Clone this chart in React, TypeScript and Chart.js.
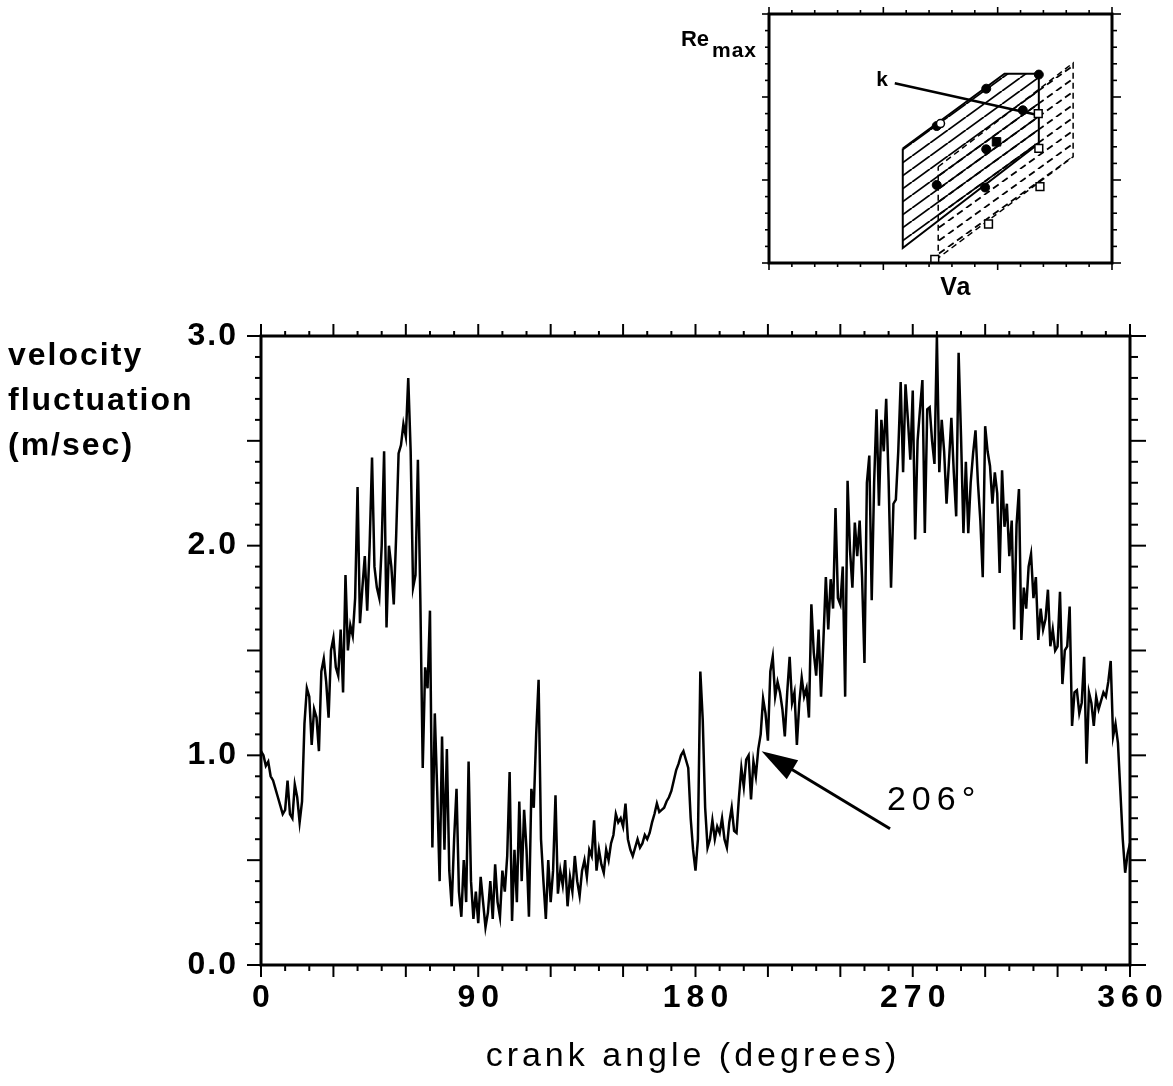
import React, { useEffect, useRef } from "react";
import { Chart, registerables } from "chart.js";

Chart.register(...registerables);

// ---------- main chart data ----------
const velocity: number[] = [
  1.02, 1.0, 0.95, 0.97, 0.9, 0.88, 0.84, 0.8, 0.76, 0.72,
  0.74, 0.88, 0.72, 0.7, 0.86, 0.8, 0.68, 0.78, 1.15, 1.32,
  1.28, 1.05, 1.22, 1.18, 1.02, 1.4, 1.46, 1.35, 1.18, 1.5,
  1.56, 1.42, 1.38, 1.6, 1.3, 1.86, 1.5, 1.62, 1.57, 1.75,
  2.28, 1.63, 1.8, 1.95, 1.69, 2.0, 2.42, 1.9, 1.8, 1.75,
  2.0, 2.45, 1.61, 2.0, 1.9, 1.72, 2.05, 2.44, 2.48, 2.58,
  2.52, 2.8, 2.45, 1.8, 1.86, 2.41, 1.75, 0.94, 1.42, 1.32,
  1.69, 0.56, 1.2, 0.83, 0.4, 1.09, 0.55, 1.03, 0.45, 0.28,
  0.6, 0.84, 0.35, 0.23, 0.5, 0.3, 0.97, 0.4, 0.22, 0.35,
  0.2, 0.42, 0.3, 0.18, 0.25, 0.4, 0.22, 0.48, 0.3, 0.23,
  0.45, 0.35, 0.52, 0.92, 0.21, 0.55, 0.3, 0.78, 0.4, 0.74,
  0.55, 0.23, 0.84, 0.75, 1.1, 1.36, 0.6, 0.4, 0.22, 0.5,
  0.3, 0.45, 0.81, 0.34, 0.45, 0.38, 0.5, 0.28, 0.42, 0.35,
  0.52, 0.4, 0.33, 0.45, 0.5, 0.42, 0.55, 0.52, 0.69, 0.45,
  0.55, 0.48, 0.44, 0.55, 0.5, 0.58, 0.62, 0.72, 0.68, 0.7,
  0.66, 0.77, 0.6, 0.55, 0.52, 0.56, 0.6, 0.56, 0.58, 0.62,
  0.6, 0.63, 0.68, 0.72, 0.77, 0.73, 0.74, 0.75, 0.78, 0.8,
  0.83, 0.88, 0.93, 0.96, 1.0, 1.02, 0.98, 0.94, 0.7, 0.55,
  0.45, 0.6, 1.4, 1.17, 0.75, 0.56, 0.6, 0.69, 0.6, 0.66,
  0.63, 0.7, 0.6, 0.56, 0.68, 0.75, 0.64, 0.63, 0.8, 0.94,
  0.85, 0.98, 1.0, 0.79, 0.97, 0.9, 1.03, 1.1, 1.27, 1.2,
  1.07, 1.4, 1.47, 1.28, 1.35, 1.3, 1.22, 1.09, 1.3, 1.47,
  1.25, 1.3, 1.05, 1.25, 1.37, 1.28, 1.32, 1.18, 1.72, 1.49,
  1.38, 1.6, 1.28, 1.55, 1.85, 1.6, 1.84, 1.7, 2.18, 1.75,
  1.72, 1.9, 1.28, 2.31, 1.98, 1.8, 2.11, 1.95, 2.12, 1.85,
  1.44, 2.3, 2.43, 1.74, 2.3, 2.65, 2.19, 2.6, 2.45, 2.7,
  2.31, 1.8, 2.2, 2.22, 2.45, 2.78, 2.35, 2.77, 2.6, 2.41,
  2.74, 2.03, 2.5, 2.65, 2.79, 2.06, 2.65, 2.66, 2.5, 2.39,
  3.0, 2.35, 2.6, 2.45, 2.2, 2.4, 2.61, 2.35, 2.14, 2.92,
  2.52, 2.06, 2.4, 2.06, 2.3, 2.44, 2.55, 2.3, 2.12, 1.85,
  2.57, 2.45, 2.38, 2.2, 2.35, 2.25, 1.87, 2.36, 2.09, 2.2,
  1.95, 2.12, 1.6, 2.1, 2.27, 1.55, 1.8, 1.7, 1.9, 1.96,
  1.75, 1.85, 1.55, 1.7, 1.6, 1.65, 1.79, 1.52, 1.6, 1.5,
  1.52, 1.78, 1.34, 1.5, 1.52, 1.71, 1.14, 1.3, 1.31, 1.2,
  1.25, 1.47, 0.96, 1.3, 1.25, 1.14, 1.28, 1.22, 1.26, 1.3,
  1.28, 1.35, 1.45, 1.09, 1.15, 1.06, 0.83, 0.6, 0.44, 0.53,
  0.58,
];
// one sample per degree of crank angle
const crankAngles: number[] = velocity.map((_, i) => i);

const xTickLabels: number[] = [0, 90, 180, 270, 360];
const yTickLabels: number[] = [0, 1, 2, 3];
const yTitleLines: string[] = ["velocity", "fluctuation", "(m/sec)"];
const xTitle = "crank angle (degrees)";

const arrowTail = { x: 260.6, y: 0.65 };
const arrowTip = { x: 207.4, y: 1.02 };
const arrowLabel = "206°";
const arrowLabelPos = { x: 259.3, y: 0.74 };

// ---------- inset data ----------
const solidPlane = [
  { x: 1.17, y: 1.38 }, { x: 2.06, y: 2.28 }, { x: 2.36, y: 2.28 },
  { x: 2.36, y: 1.44 }, { x: 1.17, y: 0.18 }, { x: 1.17, y: 1.38 },
];
const dashedPlane = [
  { x: 1.48, y: 1.16 }, { x: 2.66, y: 2.41 }, { x: 2.66, y: 1.28 },
  { x: 1.48, y: 0.06 }, { x: 1.48, y: 1.16 },
];
const filledCircles = [
  { x: 1.9, y: 2.1 }, { x: 1.467, y: 1.65 }, { x: 2.22, y: 1.84 },
  { x: 1.9, y: 1.37 }, { x: 1.467, y: 0.94 }, { x: 1.89, y: 0.91 },
  { x: 2.36, y: 2.27 },
];
const filledSquares = [{ x: 1.99, y: 1.46 }];
const openCircles = [{ x: 1.5, y: 1.68 }];
const openSquares = [
  { x: 2.36, y: 1.38 }, { x: 2.37, y: 0.92 }, { x: 1.92, y: 0.47 },
  { x: 1.45, y: 0.045 }, { x: 2.355, y: 1.8 },
];
const kLeader = [{ x: 1.1, y: 2.165 }, { x: 2.36, y: 1.78 }];
const kLabel = { text: "k", x: 0.99, y: 2.2 };
const insetXLabel = { text: "Va", x: 1.63 };
const insetYLabel = { main: "Re", sub: "max" };

const FONT = '"Liberation Sans", Helvetica, Arial, sans-serif';

function drawText(
  ctx: CanvasRenderingContext2D,
  s: string,
  x: number,
  y: number,
  font: string,
  align: CanvasTextAlign,
  baseline: CanvasTextBaseline,
  spacing = 0
) {
  ctx.save();
  ctx.font = font;
  (ctx as any).letterSpacing = spacing + "px";
  ctx.textAlign = align;
  ctx.textBaseline = baseline;
  ctx.fillStyle = "#000";
  let dx = 0;
  if (align === "center") dx = spacing / 2;
  if (align === "right") dx = spacing;
  ctx.fillText(s, x + dx, y);
  ctx.restore();
}

function line(ctx: CanvasRenderingContext2D, x1: number, y1: number, x2: number, y2: number) {
  ctx.beginPath();
  ctx.moveTo(x1, y1);
  ctx.lineTo(x2, y2);
  ctx.stroke();
}

const mainDecor = {
  id: "mainDecor",
  afterDraw(chart: any) {
    const { ctx, chartArea: a, scales } = chart;
    const xs = scales.x;
    const ys = scales.y;
    ctx.save();
    ctx.strokeStyle = "#000";
    ctx.lineWidth = 3;
    ctx.strokeRect(a.left, a.top, a.right - a.left, a.bottom - a.top);
    ctx.lineWidth = 2;
    for (let v = 0; v <= 360; v += 10) {
      const px = xs.getPixelForValue(v);
      const major = v % 30 === 0;
      line(ctx, px, a.bottom, px, a.bottom + (major ? 12 : 6));
      line(ctx, px, a.top, px, a.top - (major ? 12 : 5));
    }
    for (let i = 0; i <= 30; i++) {
      const py = ys.getPixelForValue(i / 10);
      const major = i % 5 === 0;
      line(ctx, a.left, py, a.left - (major ? 14 : 6), py);
      line(ctx, a.right, py, a.right + (major ? 16 : 8), py);
    }
    const bold = `bold 32px ${FONT}`;
    xTickLabels.forEach((v) => {
      drawText(ctx, String(v), xs.getPixelForValue(v), 998, bold, "center", "middle", 6);
    });
    yTickLabels.forEach((v) => {
      drawText(ctx, v.toFixed(1), a.left - 25, ys.getPixelForValue(v), bold, "right", "middle", 2);
    });
    yTitleLines.forEach((s, i) => {
      drawText(ctx, s, 8, 365 + i * 45, bold, "left", "alphabetic", 2);
    });
    drawText(ctx, xTitle, 691, 1066, `34px ${FONT}`, "center", "alphabetic", 4);

    // arrow
    const tx = xs.getPixelForValue(arrowTail.x);
    const ty = ys.getPixelForValue(arrowTail.y);
    const hx = xs.getPixelForValue(arrowTip.x);
    const hy = ys.getPixelForValue(arrowTip.y);
    const ang = Math.atan2(hy - ty, hx - tx);
    const len = 36;
    const hw = 11;
    const bx = hx - Math.cos(ang) * len;
    const by = hy - Math.sin(ang) * len;
    ctx.lineWidth = 3;
    line(ctx, tx, ty, bx + Math.cos(ang) * 4, by + Math.sin(ang) * 4);
    ctx.beginPath();
    ctx.moveTo(hx, hy);
    ctx.lineTo(bx + Math.sin(ang) * hw, by - Math.cos(ang) * hw);
    ctx.lineTo(bx - Math.sin(ang) * hw, by + Math.cos(ang) * hw);
    ctx.closePath();
    ctx.fillStyle = "#000";
    ctx.fill();
    drawText(
      ctx,
      arrowLabel,
      xs.getPixelForValue(arrowLabelPos.x),
      ys.getPixelForValue(arrowLabelPos.y),
      `34px ${FONT}`,
      "left",
      "alphabetic",
      6
    );
    ctx.restore();
  },
};

const insetDecor = {
  id: "insetDecor",
  afterDraw(chart: any) {
    const { ctx, chartArea: a, scales } = chart;
    const xs = scales.x;
    const ys = scales.y;
    ctx.save();
    ctx.strokeStyle = "#000";
    ctx.lineWidth = 3;
    ctx.strokeRect(a.left, a.top, a.right - a.left, a.bottom - a.top);
    ctx.lineWidth = 1.6;
    for (let i = 0; i <= 15; i++) {
      const v = i / 5;
      const major = i % 5 === 0;
      const px = xs.getPixelForValue(v);
      line(ctx, px, a.bottom, px, a.bottom + (major ? 7 : 4));
      line(ctx, px, a.top, px, a.top - (major ? 7 : 4));
      const py = ys.getPixelForValue(v);
      line(ctx, a.left, py, a.left - (major ? 7 : 4), py);
      line(ctx, a.right, py, a.right + (major ? 9 : 5), py);
    }
    drawText(ctx, insetYLabel.main, a.left - 60, 46, `bold 22px ${FONT}`, "right", "alphabetic", 0);
    drawText(ctx, insetYLabel.sub, a.left - 57, 57, `bold 21px ${FONT}`, "left", "alphabetic", 1);
    drawText(ctx, insetXLabel.text, xs.getPixelForValue(insetXLabel.x), a.bottom + 32, `bold 25px ${FONT}`, "center", "alphabetic", 1);
    drawText(ctx, kLabel.text, xs.getPixelForValue(kLabel.x), ys.getPixelForValue(kLabel.y), `bold 21px ${FONT}`, "center", "middle", 0);
    ctx.restore();
  },
};

function makeHatch(dashed: boolean): CanvasPattern | string {
  const W = 18;
  const H = 13;
  const c = document.createElement("canvas");
  c.width = W;
  c.height = H;
  const g = c.getContext("2d");
  if (!g) return "rgba(0,0,0,0)";
  g.strokeStyle = "#000";
  g.lineWidth = 1.8;
  if (dashed) g.setLineDash([7, 4.1]);
  for (const off of [-W, 0, W]) {
    g.beginPath();
    g.moveTo(off, H);
    g.lineTo(off + W, 0);
    g.stroke();
  }
  const p = g.createPattern(c, "repeat");
  return p || "rgba(0,0,0,0)";
}

export default function App() {
  const mainRef = useRef<HTMLCanvasElement>(null);
  const insetRef = useRef<HTMLCanvasElement>(null);

  useEffect(() => {
    const mainChart = new Chart(mainRef.current as HTMLCanvasElement, {
      type: "line",
      data: {
        datasets: [
          {
            data: crankAngles.map((a, i) => ({ x: a, y: velocity[i] })),
            borderColor: "#000",
            borderWidth: 2.5,
            pointRadius: 0,
            tension: 0,
            fill: false,
          },
        ],
      },
      options: {
        animation: false,
        responsive: false,
        devicePixelRatio: 1,
        events: [],
        layout: { padding: { left: 261, right: 43, top: 336, bottom: 121 } },
        scales: {
          x: { type: "linear", min: 0, max: 360, display: false },
          y: { type: "linear", min: 0, max: 3, display: false },
        },
        plugins: { legend: { display: false }, tooltip: { enabled: false } },
      },
      plugins: [mainDecor],
    } as any);

    const solidHatch = makeHatch(false);
    const dashHatch = makeHatch(true);

    const insetChart = new Chart(insetRef.current as HTMLCanvasElement, {
      type: "line",
      data: {
        datasets: [
          {
            data: filledCircles,
            showLine: false,
            pointStyle: "circle",
            pointRadius: 4.5,
            pointBackgroundColor: "#000",
            pointBorderColor: "#000",
            order: 0,
          },
          {
            data: filledSquares,
            showLine: false,
            pointStyle: "rect",
            pointRadius: 6,
            pointBackgroundColor: "#000",
            pointBorderColor: "#000",
            order: 0,
          },
          {
            data: openCircles,
            showLine: false,
            pointStyle: "circle",
            pointRadius: 4,
            pointBackgroundColor: "#fff",
            pointBorderColor: "#000",
            pointBorderWidth: 1.5,
            order: -1,
          },
          {
            data: openSquares,
            showLine: false,
            pointStyle: "rect",
            pointRadius: 5.5,
            pointBackgroundColor: "#fff",
            pointBorderColor: "#000",
            pointBorderWidth: 1.5,
            order: 0,
          },
          {
            data: kLeader,
            borderColor: "#000",
            borderWidth: 2.5,
            pointRadius: 0,
            fill: false,
            order: 1,
          },
          {
            data: solidPlane,
            borderColor: "#000",
            borderWidth: 2,
            pointRadius: 0,
            backgroundColor: solidHatch,
            fill: "shape",
            order: 2,
          },
          {
            data: dashedPlane,
            borderColor: "#000",
            borderWidth: 1.5,
            borderDash: [6, 4],
            pointRadius: 0,
            backgroundColor: dashHatch,
            fill: "shape",
            order: 3,
          },
        ],
      },
      options: {
        animation: false,
        responsive: false,
        devicePixelRatio: 1,
        events: [],
        layout: { padding: { left: 109, right: 61, top: 14, bottom: 37 } },
        scales: {
          x: { type: "linear", min: 0, max: 3, display: false },
          y: { type: "linear", min: 0, max: 3, display: false },
        },
        plugins: { legend: { display: false }, tooltip: { enabled: false } },
      },
      plugins: [insetDecor],
    } as any);

    return () => {
      mainChart.destroy();
      insetChart.destroy();
    };
  }, []);

  return (
    <div style={{ position: "absolute", left: 0, top: 0, width: 1173, height: 1086, background: "#fff", overflow: "hidden" }}>
      <canvas ref={mainRef} width={1173} height={1086} style={{ position: "absolute", left: 0, top: 0 }} />
      <canvas ref={insetRef} width={513} height={300} style={{ position: "absolute", left: 660, top: 0 }} />
    </div>
  );
}
